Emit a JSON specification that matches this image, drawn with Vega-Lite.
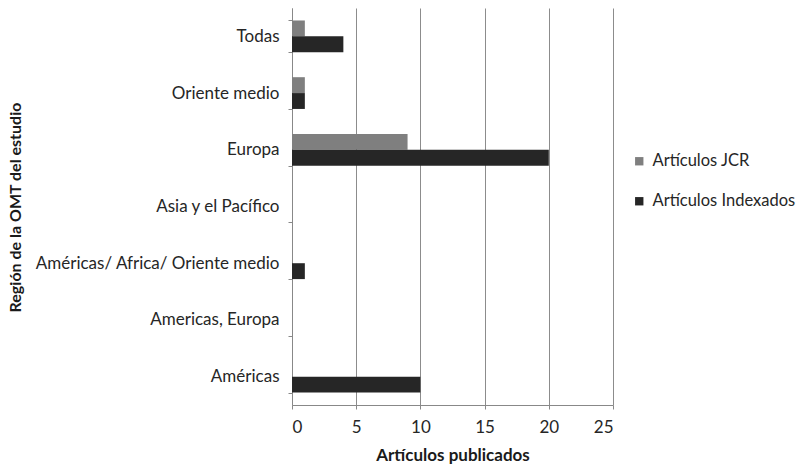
{
  "$schema": "https://vega.github.io/schema/vega-lite/v6.json",
  "width": 321,
  "height": 397,
  "autosize": {"type": "none"},
  "padding": {"left": 292, "top": 8, "right": 186, "bottom": 62},
  "background": "white",
  "config": {
    "font": "Lato",
    "view": {"stroke": null},
    "axis": {"labelFont": "Lato", "titleFont": "Lato"},
    "legend": {"labelFont": "Lato"}
  },
  "data": {
    "values": [
      {"region": "Todas", "serie": "Artículos JCR", "n": 1},
      {"region": "Todas", "serie": "Artículos Indexados", "n": 4},
      {"region": "Oriente medio", "serie": "Artículos JCR", "n": 1},
      {"region": "Oriente medio", "serie": "Artículos Indexados", "n": 1},
      {"region": "Europa", "serie": "Artículos JCR", "n": 9},
      {"region": "Europa", "serie": "Artículos Indexados", "n": 20},
      {"region": "Asia y el Pacífico", "serie": "Artículos JCR", "n": 0},
      {"region": "Asia y el Pacífico", "serie": "Artículos Indexados", "n": 0},
      {"region": "Américas/ Africa/ Oriente medio", "serie": "Artículos JCR", "n": 0},
      {"region": "Américas/ Africa/ Oriente medio", "serie": "Artículos Indexados", "n": 1},
      {"region": "Americas, Europa", "serie": "Artículos JCR", "n": 0},
      {"region": "Americas, Europa", "serie": "Artículos Indexados", "n": 0},
      {"region": "Américas", "serie": "Artículos JCR", "n": 0},
      {"region": "Américas", "serie": "Artículos Indexados", "n": 10}
    ]
  },
  "mark": {"type": "bar"},
  "encoding": {
    "y": {
      "field": "region",
      "type": "nominal",
      "sort": ["Todas", "Oriente medio", "Europa", "Asia y el Pacífico", "Américas/ Africa/ Oriente medio", "Americas, Europa", "Américas"],
      "scale": {"paddingInner": 0.44, "paddingOuter": 0.22},
      "axis": {
        "title": "Región de la OMT del estudio",
        "titleFontSize": 16,
        "titleFontWeight": "bold",
        "titleColor": "#1a1a1a",
        "titleX": -277,
        "titleY": 199,
        "titleAngle": -90,
        "titleAlign": "center",
        "titleBaseline": "middle",
        "labelFontSize": 17,
        "labelLimit": 400,
        "labelColor": "#262626",
        "labelPadding": 9,
        "tickBand": "extent",
        "tickSize": 4,
        "tickColor": "#888888",
        "domainColor": "#888888"
      }
    },
    "yOffset": {
      "field": "serie",
      "type": "nominal",
      "sort": ["Artículos JCR", "Artículos Indexados"],
      "scale": {"paddingInner": 0, "paddingOuter": 0}
    },
    "x": {
      "field": "n",
      "type": "quantitative",
      "scale": {"domain": [0, 25], "nice": false},
      "axis": {
        "title": "Artículos publicados",
        "titleFontSize": 17,
        "titleFontWeight": "bold",
        "titleColor": "#1a1a1a",
        "titlePadding": 12,
        "values": [0, 5, 10, 15, 20, 25],
        "labelFontSize": 17,
        "labelColor": "#262626",
        "labelPadding": 10,
        "tickSize": 4,
        "tickColor": "#888888",
        "domainColor": "#888888",
        "grid": true,
        "gridColor": "#8c8c8c",
        "gridWidth": 1
      }
    },
    "color": {
      "field": "serie",
      "type": "nominal",
      "sort": ["Artículos JCR", "Artículos Indexados"],
      "scale": {"domain": ["Artículos JCR", "Artículos Indexados"], "range": ["#7f7f7f", "#262626"]},
      "legend": {
        "title": null,
        "orient": "none",
        "legendX": 339,
        "legendY": 145,
        "symbolType": "square",
        "symbolSize": 70,
        "symbolStrokeWidth": 0,
        "labelFontSize": 16.5,
        "labelLimit": 300,
        "labelColor": "#262626",
        "rowPadding": 23,
        "labelOffset": 5
      }
    }
  }
}
